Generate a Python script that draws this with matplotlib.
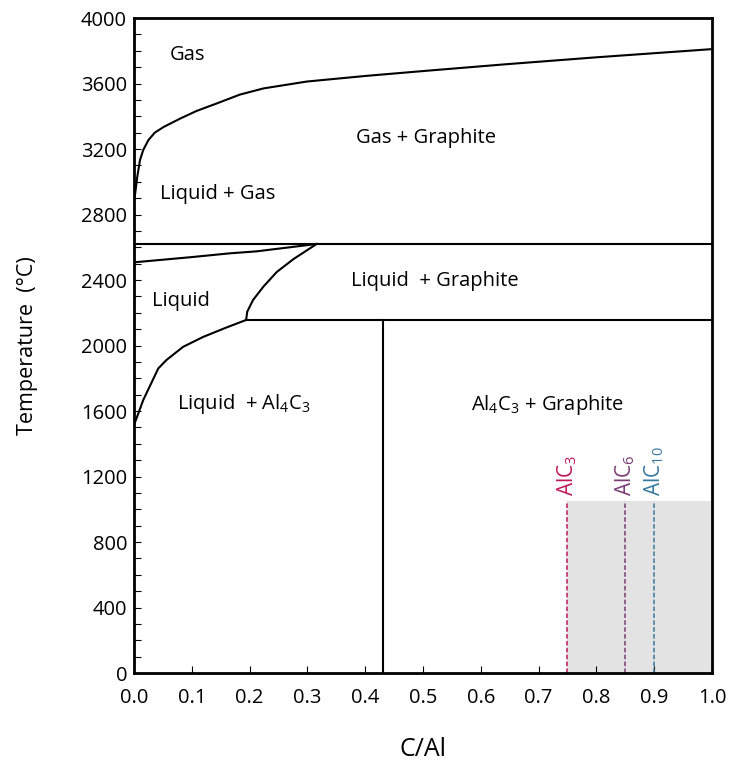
import matplotlib
matplotlib.use('Agg')
import matplotlib.pyplot as plt
from matplotlib.ticker import MultipleLocator

plt.rcParams['font.family'] = ['Open Sans', 'DejaVu Sans']
plt.rcParams['mathtext.fontset'] = 'custom'
plt.rcParams['mathtext.rm'] = 'Open Sans'

# phase boundaries (C/Al, temperature in C)
gas_x = [0.0, 0.0017, 0.0057, 0.0104, 0.016, 0.025, 0.036, 0.051, 0.080, 0.108,
         0.143, 0.183, 0.224, 0.299, 0.40, 0.50, 0.645, 0.80, 1.0]
gas_t = [2890, 2919, 3031, 3133, 3194, 3255, 3300, 3334, 3386, 3432,
         3478, 3532, 3570, 3612, 3646, 3676, 3718, 3760, 3810]

liq_top_x = [0.0, 0.097, 0.166, 0.212, 0.316]
liq_top_t = [2508, 2539, 2563, 2575, 2620]

liquidus_x = [0.194, 0.196, 0.206, 0.224, 0.247, 0.276, 0.316]
liquidus_t = [2156, 2207, 2278, 2360, 2449, 2528, 2620]

low_x = [0.0, 0.016, 0.042, 0.056, 0.085, 0.12, 0.160, 0.194]
low_t = [1514, 1667, 1860, 1911, 1992, 2053, 2110, 2156]

t_eutectic = 2620   # upper horizontal line
t_peritectic = 2156  # Al4C3 decomposition line
x_al4c3 = 0.43

# region labels: (text, x, T)
regions = [
    ('Gas', 0.093, 3774),
    ('Liquid + Gas', 0.144, 2925),
    ('Gas + Graphite', 0.505, 3267),
    ('Liquid  + Graphite', 0.521, 2394),
    ('Liquid', 0.081, 2272),
    (r'Liquid  + Al$_4$C$_3$', 0.19, 1643),
    (r'Al$_4$C$_3$ + Graphite', 0.716, 1637),
]

# intercalation compounds
gic_names = [r'AlC$_3$', r'AlC$_6$', r'AlC$_{10}$']
gic_x = [0.75, 0.85, 0.90]
gic_colors = ['#c2185b', '#7b3b74', '#36799f']
shade_top = 1050

fig = plt.figure(figsize=(7.33, 7.76), dpi=100)
ax = fig.add_axes([0.1828, 0.1327, 0.7885, 0.8441])

ax.axvspan(0.75, 1.0, ymin=0, ymax=shade_top / 4000, color='#e3e3e3', lw=0, zorder=0)

lk = dict(color='black', lw=1.5, solid_joinstyle='round')
ax.plot(gas_x, gas_t, **lk)
ax.plot(liq_top_x, liq_top_t, **lk)
ax.plot(liquidus_x, liquidus_t, **lk)
ax.plot(low_x, low_t, **lk)
ax.plot([0, 1], [t_eutectic, t_eutectic], **lk)
ax.plot([liquidus_x[0], 1], [t_peritectic, t_peritectic], **lk)
ax.plot([x_al4c3, x_al4c3], [0, t_peritectic], **lk)

for name, xx, c in zip(gic_names, gic_x, gic_colors):
    ax.plot([xx, xx], [0, shade_top], color=c, lw=1.1, ls=(0, (3, 1.5)), zorder=2)
    ax.text(xx, shade_top + 30, name, rotation=90, color=c, fontsize=15,
            ha='center', va='bottom')

for txt, xx, tt in regions:
    ax.text(xx, tt, txt, fontsize=14.5, ha='center', va='center')

ax.set_xlim(0, 1)
ax.set_ylim(0, 4000)
ax.xaxis.set_major_locator(MultipleLocator(0.1))
ax.yaxis.set_major_locator(MultipleLocator(400))
ax.yaxis.set_minor_locator(MultipleLocator(100))
ax.xaxis.set_major_formatter(plt.FuncFormatter(lambda v, p: '%.1f' % v))
ax.tick_params(direction='in', length=5, width=0.8, labelsize=14.5)
ax.tick_params(which='minor', direction='in', length=5, width=0.8)
ax.tick_params(axis='y', pad=5)
ax.tick_params(axis='x', pad=11)
for s in ax.spines.values():
    s.set_linewidth(2)

ax.set_xlabel('C/Al', fontsize=18, labelpad=21)
ax.set_ylabel('Temperature  (°C)', fontsize=15.5, labelpad=31)

plt.savefig('out.png')
